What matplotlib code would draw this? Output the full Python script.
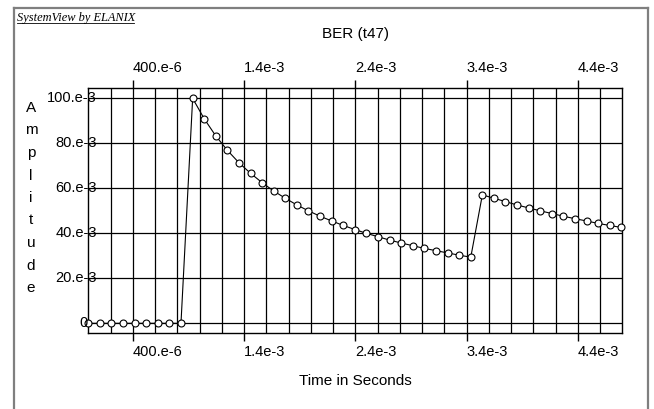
import matplotlib
matplotlib.use("Agg")
import matplotlib.pyplot as plt
from matplotlib.lines import Line2D
import matplotlib.transforms as mtransforms

# sample times (seconds) and BER values
t = [0.0, 0.104e-3, 0.208e-3, 0.313e-3, 0.417e-3, 0.521e-3, 0.625e-3, 0.729e-3,
     0.833e-3, 0.938e-3, 1.042e-3, 1.146e-3, 1.250e-3, 1.354e-3, 1.458e-3, 1.563e-3,
     1.667e-3, 1.771e-3, 1.875e-3, 1.979e-3, 2.083e-3, 2.188e-3, 2.292e-3, 2.396e-3,
     2.500e-3, 2.604e-3, 2.708e-3, 2.813e-3, 2.917e-3, 3.021e-3, 3.125e-3, 3.229e-3,
     3.333e-3, 3.438e-3, 3.542e-3, 3.646e-3, 3.750e-3, 3.854e-3, 3.958e-3, 4.063e-3,
     4.167e-3, 4.271e-3, 4.375e-3, 4.479e-3, 4.583e-3, 4.688e-3, 4.792e-3]
ber = [0, 0, 0, 0, 0, 0, 0, 0, 0,
       0.1000, 0.0909, 0.0833, 0.0769, 0.0714, 0.0667, 0.0625, 0.0588, 0.0556,
       0.0526, 0.0500, 0.0476, 0.0455, 0.0435, 0.0417, 0.0400, 0.0385, 0.0370,
       0.0357, 0.0345, 0.0333, 0.0323, 0.0313, 0.0303, 0.0294,
       0.0571, 0.0556, 0.0541, 0.0526, 0.0513, 0.0500, 0.0488, 0.0476, 0.0465,
       0.0455, 0.0444, 0.0435, 0.0426]

x_major = [0.4e-3, 1.4e-3, 2.4e-3, 3.4e-3, 4.4e-3]
x_labels = ["400.e-6", "1.4e-3", "2.4e-3", "3.4e-3", "4.4e-3"]
x_grid = [0.2e-3, 0.4e-3, 0.6e-3, 0.8e-3, 1.0e-3, 1.2e-3, 1.4e-3, 1.6e-3, 1.8e-3,
          2.0e-3, 2.2e-3, 2.4e-3, 2.6e-3, 2.8e-3, 3.0e-3, 3.2e-3, 3.4e-3, 3.6e-3,
          3.8e-3, 4.0e-3, 4.2e-3, 4.4e-3, 4.6e-3]
y_ticks = [0, 20e-3, 40e-3, 60e-3, 80e-3, 100e-3]
y_labels = ["0", "20.e-3", "40.e-3", "60.e-3", "80.e-3", "100.e-3"]

W, H = 654, 409
plt.rcParams['font.family'] = ['Liberation Sans', 'DejaVu Sans']
fig = plt.figure(figsize=(W / 100, H / 100), dpi=100)

# outer gray frame
frame_kw = dict(color="#7f7f7f", lw=1.6, transform=fig.transFigure)
fig.add_artist(Line2D([13.5 / W, 13.5 / W], [0, 1 - 8 / H], **frame_kw))
fig.add_artist(Line2D([13.5 / W, 648 / W], [1 - 8 / H, 1 - 8 / H], **frame_kw))
fig.add_artist(Line2D([648 / W, 648 / W], [0, 1 - 8 / H], **frame_kw))

fig.text(17 / W, 1 - 18 / H, "SystemView by ELANIX", family="Liberation Serif",
         style="italic", fontsize=8.9, va="center", ha="left")
fig.add_artist(Line2D([17 / W, 134 / W], [1 - 23 / H, 1 - 23 / H], color="black",
                      lw=0.6, transform=fig.transFigure))

ax = fig.add_axes([88.3 / W, 1 - 333 / H, (622.3 - 88.3) / W, (333 - 88) / H])
ax.set_xlim(0, 4.8e-3)
ax.set_ylim(-4.3e-3, 104.6e-3)

for s in ax.spines.values():
    s.set_color("black")
    s.set_linewidth(1.0)

ax.set_xticks(x_major)
ax.set_xticklabels(x_labels)
ax.set_xticks(x_grid, minor=True)
ax.tick_params(axis="x", which="major", direction="out", length=6, width=1,
               top=True, labeltop=True, labelsize=10.5, pad=3)
ax.tick_params(axis="x", which="minor", length=0)
for tk in ax.xaxis.get_major_ticks():
    tk.label1.set_horizontalalignment("left")
    tk.label2.set_horizontalalignment("left")
ax.xaxis.grid(True, which="both", color="black", lw=0.9)

ax.set_yticks(y_ticks)
ax.set_yticklabels([])
ax.tick_params(axis="y", length=0)
ax.yaxis.grid(True, color="black", lw=0.9)

trans = mtransforms.blended_transform_factory(ax.transAxes, ax.transData)
for v, lab in zip(y_ticks, y_labels):
    xr = 0.0163 if lab != "0" else -0.0015
    ax.text(xr, v, lab, transform=trans, ha="right", va="center", fontsize=10.5,
            clip_on=False, zorder=5)

ax.plot(t, ber, color="black", lw=0.8, marker="o", markersize=5,
        markerfacecolor="white", markeredgecolor="black", markeredgewidth=0.8,
        clip_on=False, zorder=4)

fig.text(355 / W, 1 - 34 / H, "BER (t47)", ha="center", va="center", fontsize=11)
fig.text(355 / W, 1 - 381 / H, "Time in Seconds", ha="center", va="center", fontsize=11)

for k, ch in enumerate("Amplitude"):
    fig.text(31 / W, 1 - (108 + k * 22.5) / H, ch, ha="center", va="center", fontsize=11)

fig.savefig("out.png", dpi=100)
